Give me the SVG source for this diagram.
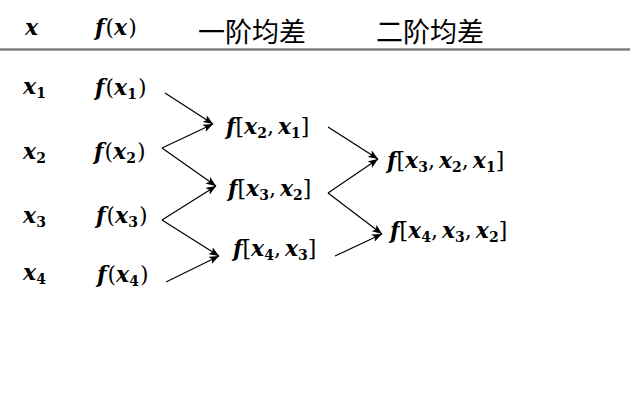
<svg xmlns="http://www.w3.org/2000/svg" width="630" height="402" viewBox="0 0 630 402">
<style>
.m{font-family:"DejaVu Serif","Liberation Serif",serif;font-size:22px;font-style:italic;font-weight:bold;fill:#000}
.s{font-size:14px;font-style:normal;font-weight:bold}
.u{font-style:normal;font-weight:normal}
.h{font-family:"Noto Sans CJK SC","Noto Sans CJK JP",sans-serif;font-size:27px;fill:#000}
.c{stroke:#000;stroke-width:1.2;fill:none;marker-end:url(#ah)}
</style>
<defs>
<marker id="ah" viewBox="0 0 10 8" refX="10" refY="4" markerWidth="10" markerHeight="8" markerUnits="userSpaceOnUse" orient="auto">
<path d="M0,0 L10,4 L0,8 L2.5,4 Z" fill="#000"/>
</marker>
</defs>
<rect width="630" height="402" fill="#fff"/>
<g id="header">
<text class="m" x="25" y="35">x</text>
<text class="m" x="95" y="35">f<tspan class="u" dx="1">(</tspan>x<tspan class="u" dx="1">)</tspan></text>
<text class="h" x="198" y="42">一阶均差</text>
<text class="h" x="376" y="42">二阶均差</text>
<line x1="0" y1="49.5" x2="630" y2="49.5" stroke="#808080" stroke-width="2.5"/>
</g>
<g id="x1"><text class="m" x="23" y="94">x<tspan class="s" dy="4">1</tspan></text></g>
<g id="x2"><text class="m" x="23" y="159">x<tspan class="s" dy="4">2</tspan></text></g>
<g id="x3"><text class="m" x="23" y="223">x<tspan class="s" dy="4">3</tspan></text></g>
<g id="x4"><text class="m" x="23" y="280">x<tspan class="s" dy="4">4</tspan></text></g>
<g id="fx1"><text class="m" x="95" y="95">f<tspan class="u" dx="1">(</tspan>x<tspan class="s" dy="4">1</tspan><tspan class="u" dy="-4" dx="1">)</tspan></text></g>
<g id="fx2"><text class="m" x="94" y="159">f<tspan class="u" dx="1">(</tspan>x<tspan class="s" dy="4">2</tspan><tspan class="u" dy="-4" dx="1">)</tspan></text></g>
<g id="fx3"><text class="m" x="96" y="223">f<tspan class="u" dx="1">(</tspan>x<tspan class="s" dy="4">3</tspan><tspan class="u" dy="-4" dx="1">)</tspan></text></g>
<g id="fx4"><text class="m" x="97" y="282">f<tspan class="u" dx="1">(</tspan>x<tspan class="s" dy="4">4</tspan><tspan class="u" dy="-4" dx="1">)</tspan></text></g>
<g id="f21"><text class="m" x="226" y="134">f<tspan class="u">[</tspan>x<tspan class="s" dy="4">2</tspan><tspan class="u" dy="-4">,</tspan><tspan dx="4">x</tspan><tspan class="s" dy="4">1</tspan><tspan class="u" dy="-4">]</tspan></text></g>
<g id="f32"><text class="m" x="228" y="196">f<tspan class="u">[</tspan>x<tspan class="s" dy="4">3</tspan><tspan class="u" dy="-4">,</tspan><tspan dx="4">x</tspan><tspan class="s" dy="4">2</tspan><tspan class="u" dy="-4">]</tspan></text></g>
<g id="f43"><text class="m" x="233" y="256">f<tspan class="u">[</tspan>x<tspan class="s" dy="4">4</tspan><tspan class="u" dy="-4">,</tspan><tspan dx="4">x</tspan><tspan class="s" dy="4">3</tspan><tspan class="u" dy="-4">]</tspan></text></g>
<g id="f321"><text class="m" x="387" y="168">f<tspan class="u">[</tspan>x<tspan class="s" dy="4">3</tspan><tspan class="u" dy="-4">,</tspan><tspan dx="4">x</tspan><tspan class="s" dy="4">2</tspan><tspan class="u" dy="-4">,</tspan><tspan dx="4">x</tspan><tspan class="s" dy="4">1</tspan><tspan class="u" dy="-4">]</tspan></text></g>
<g id="f432"><text class="m" x="390" y="238">f<tspan class="u">[</tspan>x<tspan class="s" dy="4">4</tspan><tspan class="u" dy="-4">,</tspan><tspan dx="4">x</tspan><tspan class="s" dy="4">3</tspan><tspan class="u" dy="-4">,</tspan><tspan dx="4">x</tspan><tspan class="s" dy="4">2</tspan><tspan class="u" dy="-4">]</tspan></text></g>
<g id="connectors">
<line class="c" x1="165" y1="93" x2="213" y2="124"/>
<line class="c" x1="162" y1="148" x2="213" y2="124"/>
<line class="c" x1="162" y1="148" x2="216" y2="186"/>
<line class="c" x1="162" y1="220" x2="216" y2="186"/>
<line class="c" x1="162" y1="220" x2="219" y2="256"/>
<line class="c" x1="166" y1="282" x2="219" y2="256"/>
<line class="c" x1="328" y1="127" x2="378" y2="159"/>
<line class="c" x1="328" y1="193" x2="378" y2="159"/>
<line class="c" x1="328" y1="193" x2="382" y2="234"/>
<line class="c" x1="335" y1="256" x2="382" y2="234"/>
</g>
</svg>
